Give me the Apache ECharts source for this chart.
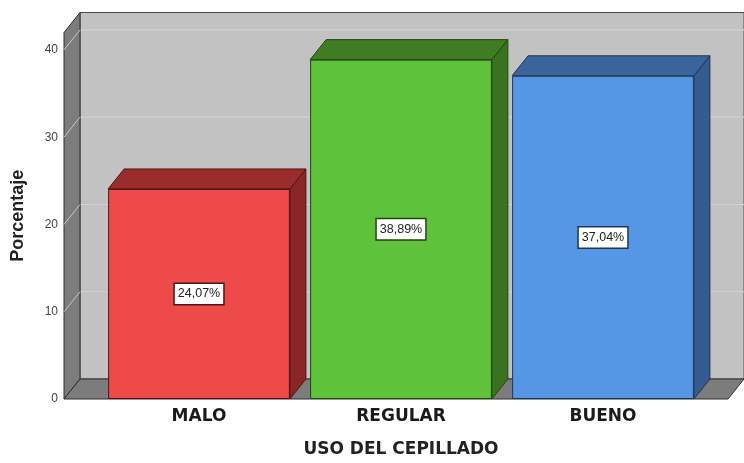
<!DOCTYPE html>
<html>
<head>
<meta charset="utf-8">
<script src="https://cdn.jsdelivr.net/npm/echarts@6/dist/echarts.min.js"></script>
<style>
  html, body { margin: 0; padding: 0; background: #ffffff; }
  #chart { width: 744px; height: 463px; }
</style>
</head>
<body>
<div id="chart"></div>
<script>
// Uso del cepillado: porcentaje por categoría
const categories = ['MALO', 'REGULAR', 'BUENO'];
const percentages = [24.07, 38.89, 37.04];
const yTicks = [0, 10, 20, 30, 40];
const Y_MAX = 42;

// Colours per bar: front face, top face, side face, outline
const frontColors = ['#ee4a4a', '#5ec33b', '#5596e5'];
const topColors   = ['#9b2c2c', '#3f7c23', '#3b639c'];
const sideColors  = ['#8a2626', '#3a731f', '#355b90'];
const edgeColors  = ['#4a1515', '#234512', '#1f3554'];

// Pseudo-3D depth offset (pixels) and how far the box reaches past the category band
const DX = 16, DY = -20;
const WALL_LEFT = 34, WALL_RIGHT = 24;
const BAR_RATIO = 0.9;

function fmtPct(v) {
  return v.toFixed(2).replace('.', ',') + '%';
}

// Back wall, left wall and floor of the 3D box, plus grid lines at each tick
function renderBox(params, api) {
  const cs = params.coordSys;
  const x0 = cs.x - WALL_LEFT;
  const x1 = cs.x + cs.width + WALL_RIGHT;
  const yb = api.coord([0, 0])[1];
  const yt = api.coord([0, Y_MAX])[1];
  const children = [];
  children.push({
    type: 'rect',
    shape: { x: x0 + DX, y: yt + DY, width: x1 - x0, height: yb - yt },
    style: { fill: '#c2c2c2', stroke: '#4a4a4a', lineWidth: 1 }
  });
  yTicks.forEach(function (t) {
    if (t === 0) return;
    const y = api.coord([0, t])[1];
    children.push({
      type: 'line',
      shape: { x1: x0 + DX, y1: y + DY, x2: x1 + DX, y2: y + DY },
      style: { stroke: '#d2d2d2', lineWidth: 1.2 }
    });
  });
  children.push({
    type: 'polygon',
    shape: { points: [[x0, yb], [x0 + DX, yb + DY], [x0 + DX, yt + DY], [x0, yt]] },
    style: { fill: '#7c7c7c', stroke: '#2e2e2e', lineWidth: 1 }
  });
  yTicks.forEach(function (t) {
    if (t === 0) return;
    const y = api.coord([0, t])[1];
    children.push({
      type: 'line',
      shape: { x1: x0, y1: y, x2: x0 + DX, y2: y + DY },
      style: { stroke: '#c9c9c9', lineWidth: 1 }
    });
  });
  children.push({
    type: 'polygon',
    shape: { points: [[x0, yb], [x1, yb], [x1 + DX, yb + DY], [x0 + DX, yb + DY]] },
    style: { fill: '#7c7c7c', stroke: '#2e2e2e', lineWidth: 1 }
  });
  return { type: 'group', children: children };
}

// Top and right-hand side faces of each bar
function renderDepth(params, api) {
  const i = params.dataIndex;
  const cat = api.value(0);
  const v = api.value(1);
  const base = api.coord([cat, 0]);
  const top = api.coord([cat, v]);
  const w = api.size([1, 0])[0] * BAR_RATIO;
  const xl = base[0] - w / 2, xr = base[0] + w / 2;
  const yb = base[1], yt = top[1];
  return {
    type: 'group',
    children: [
      {
        type: 'polygon',
        shape: { points: [[xr, yb], [xr + DX, yb + DY], [xr + DX, yt + DY], [xr, yt]] },
        style: { fill: sideColors[i], stroke: edgeColors[i], lineWidth: 1 }
      },
      {
        type: 'polygon',
        shape: { points: [[xl, yt], [xl + DX, yt + DY], [xr + DX, yt + DY], [xr, yt]] },
        style: { fill: topColors[i], stroke: edgeColors[i], lineWidth: 1 }
      }
    ]
  };
}

const chart = echarts.init(document.getElementById('chart'), null, { renderer: 'canvas' });

chart.setOption({
  backgroundColor: '#ffffff',
  animation: false,
  grid: { left: 98, right: 40, top: 400 - 42 * 8.75, bottom: 63 },
  xAxis: {
    type: 'category',
    data: categories,
    boundaryGap: true,
    axisLine: { show: false },
    axisTick: { show: false },
    axisLabel: {
      margin: 9,
      fontFamily: 'DejaVu Sans',
      fontWeight: 'bold',
      fontSize: 17,
      color: '#1a1a1a'
    },
    name: 'USO DEL CEPILLADO',
    nameLocation: 'middle',
    nameGap: 42,
    nameTextStyle: {
      fontFamily: 'DejaVu Sans',
      fontWeight: 'bold',
      fontSize: 17,
      color: '#222222'
    }
  },
  yAxis: {
    type: 'value',
    min: 0,
    max: Y_MAX,
    interval: 10,
    axisLine: { show: false },
    axisTick: { show: false },
    splitLine: { show: false },
    axisLabel: {
      margin: 40,
      fontFamily: 'Liberation Sans',
      fontSize: 12,
      color: '#444444',
      showMaxLabel: false
    },
    name: 'Porcentaje',
    nameLocation: 'middle',
    nameRotate: 90,
    nameGap: 71,
    nameTextStyle: {
      fontFamily: 'Liberation Sans',
      fontWeight: 'bold',
      fontSize: 18,
      color: '#222222'
    }
  },
  series: [
    {
      type: 'custom',
      name: 'box',
      renderItem: renderBox,
      data: [[0, 0]],
      clip: false,
      silent: true,
      z: 1
    },
    {
      type: 'custom',
      name: 'depth',
      renderItem: renderDepth,
      data: percentages.map(function (v, i) { return [i, v]; }),
      clip: false,
      silent: true,
      z: 2
    },
    {
      type: 'bar',
      name: 'Porcentaje',
      barWidth: (BAR_RATIO * 100) + '%',
      z: 3,
      data: percentages.map(function (v, i) {
        return {
          value: v,
          itemStyle: { color: frontColors[i], borderColor: edgeColors[i], borderWidth: 1 },
          label: { borderColor: edgeColors[i] }
        };
      }),
      label: {
        show: true,
        position: 'inside',
        formatter: function (p) { return fmtPct(p.value); },
        fontFamily: 'Liberation Sans',
        fontSize: 12.5,
        color: '#222222',
        backgroundColor: '#ffffff',
        borderWidth: 1.5,
        padding: [4, 3, 3, 3]
      }
    }
  ]
});
</script>
</body>
</html>
